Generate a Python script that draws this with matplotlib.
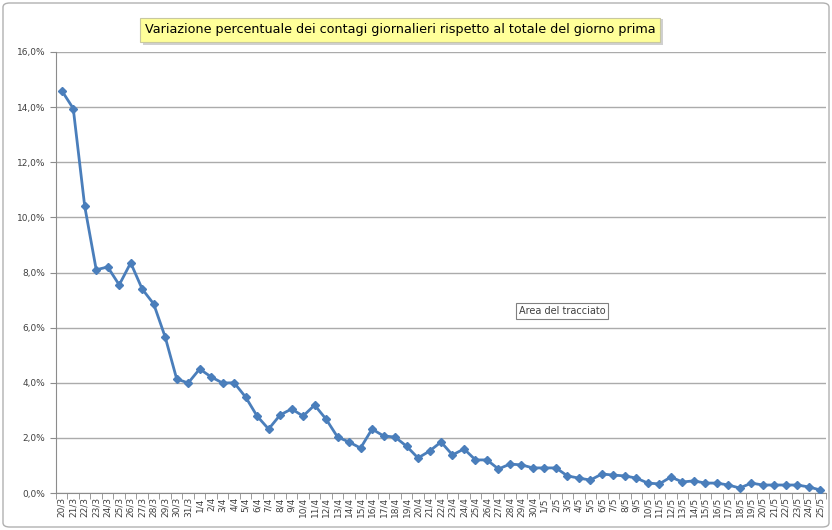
import matplotlib
matplotlib.use("Agg")
import matplotlib.pyplot as plt
from matplotlib.patches import FancyBboxPatch, Rectangle
from matplotlib.ticker import FuncFormatter, FixedLocator

dates = (["%d/3" % d for d in range(20, 32)] +
         ["%d/4" % d for d in range(1, 31)] +
         ["%d/5" % d for d in range(1, 26)])
values = [14.6, 13.95, 10.4, 8.1, 8.2, 7.55, 8.35, 7.4, 6.86, 5.66,
          4.14, 3.99, 4.5, 4.21, 3.99, 4.0, 3.48, 2.79, 2.32, 2.83,
          3.05, 2.79, 3.19, 2.68, 2.03, 1.85, 1.63, 2.32, 2.07, 2.03,
          1.7, 1.27, 1.52, 1.85, 1.38, 1.6, 1.2, 1.2, 0.87, 1.05,
          1.02, 0.91, 0.91, 0.91, 0.62, 0.54, 0.47, 0.69, 0.65, 0.62,
          0.54, 0.36, 0.33, 0.58, 0.4, 0.44, 0.36, 0.36, 0.29, 0.18,
          0.36, 0.29, 0.29, 0.29, 0.29, 0.22, 0.11]
yticks = [0, 2, 4, 6, 8, 10, 12, 14, 16]
title = "Variazione percentuale dei contagi giornalieri rispetto al totale del giorno prima"

W, H = 832, 530
fig = plt.figure(figsize=(W / 100, H / 100), dpi=100)
fig.patch.set_facecolor("white")

# outer frame
frame = FancyBboxPatch((3 / W, 3 / H), 1 - 6 / W, 1 - 6 / H,
                       boxstyle="round,pad=0,rounding_size=0.008",
                       transform=fig.transFigure, fill=False,
                       edgecolor="#b0b0b0", linewidth=1.0)
fig.patches.append(frame)

left, right, top, bottom = 56, 826, 52, 493
ax = fig.add_axes([left / W, 1 - bottom / H, (right - left) / W, (bottom - top) / H])

x = list(range(len(values)))
ax.plot(x, values, color="#4A7EBB", linewidth=2.0, marker="D", markersize=4.5,
        markerfacecolor="#4A7EBB", markeredgecolor="#4A7EBB", zorder=3)

ax.set_xlim(-0.5, len(values) - 0.5)
ax.set_ylim(0, 16)
ax.set_yticks(yticks)
ax.yaxis.set_major_formatter(FuncFormatter(lambda v, p: ("%.1f%%" % v).replace(".", ",")))
ax.grid(axis="y", color="#ababab", linewidth=1.0)
ax.set_axisbelow(True)

ax.set_xticks(x)
ax.set_xticklabels(dates, rotation=90, fontsize=6.5, color="#404040")
ax.tick_params(axis="x", which="major", length=0, pad=3)
ax.xaxis.set_minor_locator(FixedLocator([i - 0.5 for i in range(len(values) + 1)]))
ax.tick_params(axis="x", which="minor", length=4, color="#8c8c8c", direction="out")
ax.tick_params(axis="y", labelsize=6.5, colors="#404040", length=4, color="#8c8c8c")

for s in ["top", "right"]:
    ax.spines[s].set_visible(False)
ax.spines["left"].set_color("#8c8c8c")
ax.spines["bottom"].set_color("#8c8c8c")

# title box shadow + title
fig.patches.append(Rectangle((143 / W, 1 - 45 / H), 520 / W, 26 / H,
                             transform=fig.transFigure, facecolor="#d0d0d0",
                             edgecolor="none", zorder=0))
fig.text(400 / W, 1 - 30 / H, title, ha="center", va="center", fontsize=9.2,
         color="black", fontweight="medium", zorder=2,
         bbox=dict(boxstyle="square,pad=0.4", facecolor="#ffff99",
                   edgecolor="#c8c8a0", linewidth=0.8))

# tooltip
fig.text(562 / W, 1 - 311 / H, "Area del tracciato", ha="center", va="center",
         fontsize=7, color="#404040",
         bbox=dict(boxstyle="square,pad=0.3", facecolor="white",
                   edgecolor="#808080", linewidth=0.8))

fig.savefig("out.png", dpi=100, facecolor="white")
